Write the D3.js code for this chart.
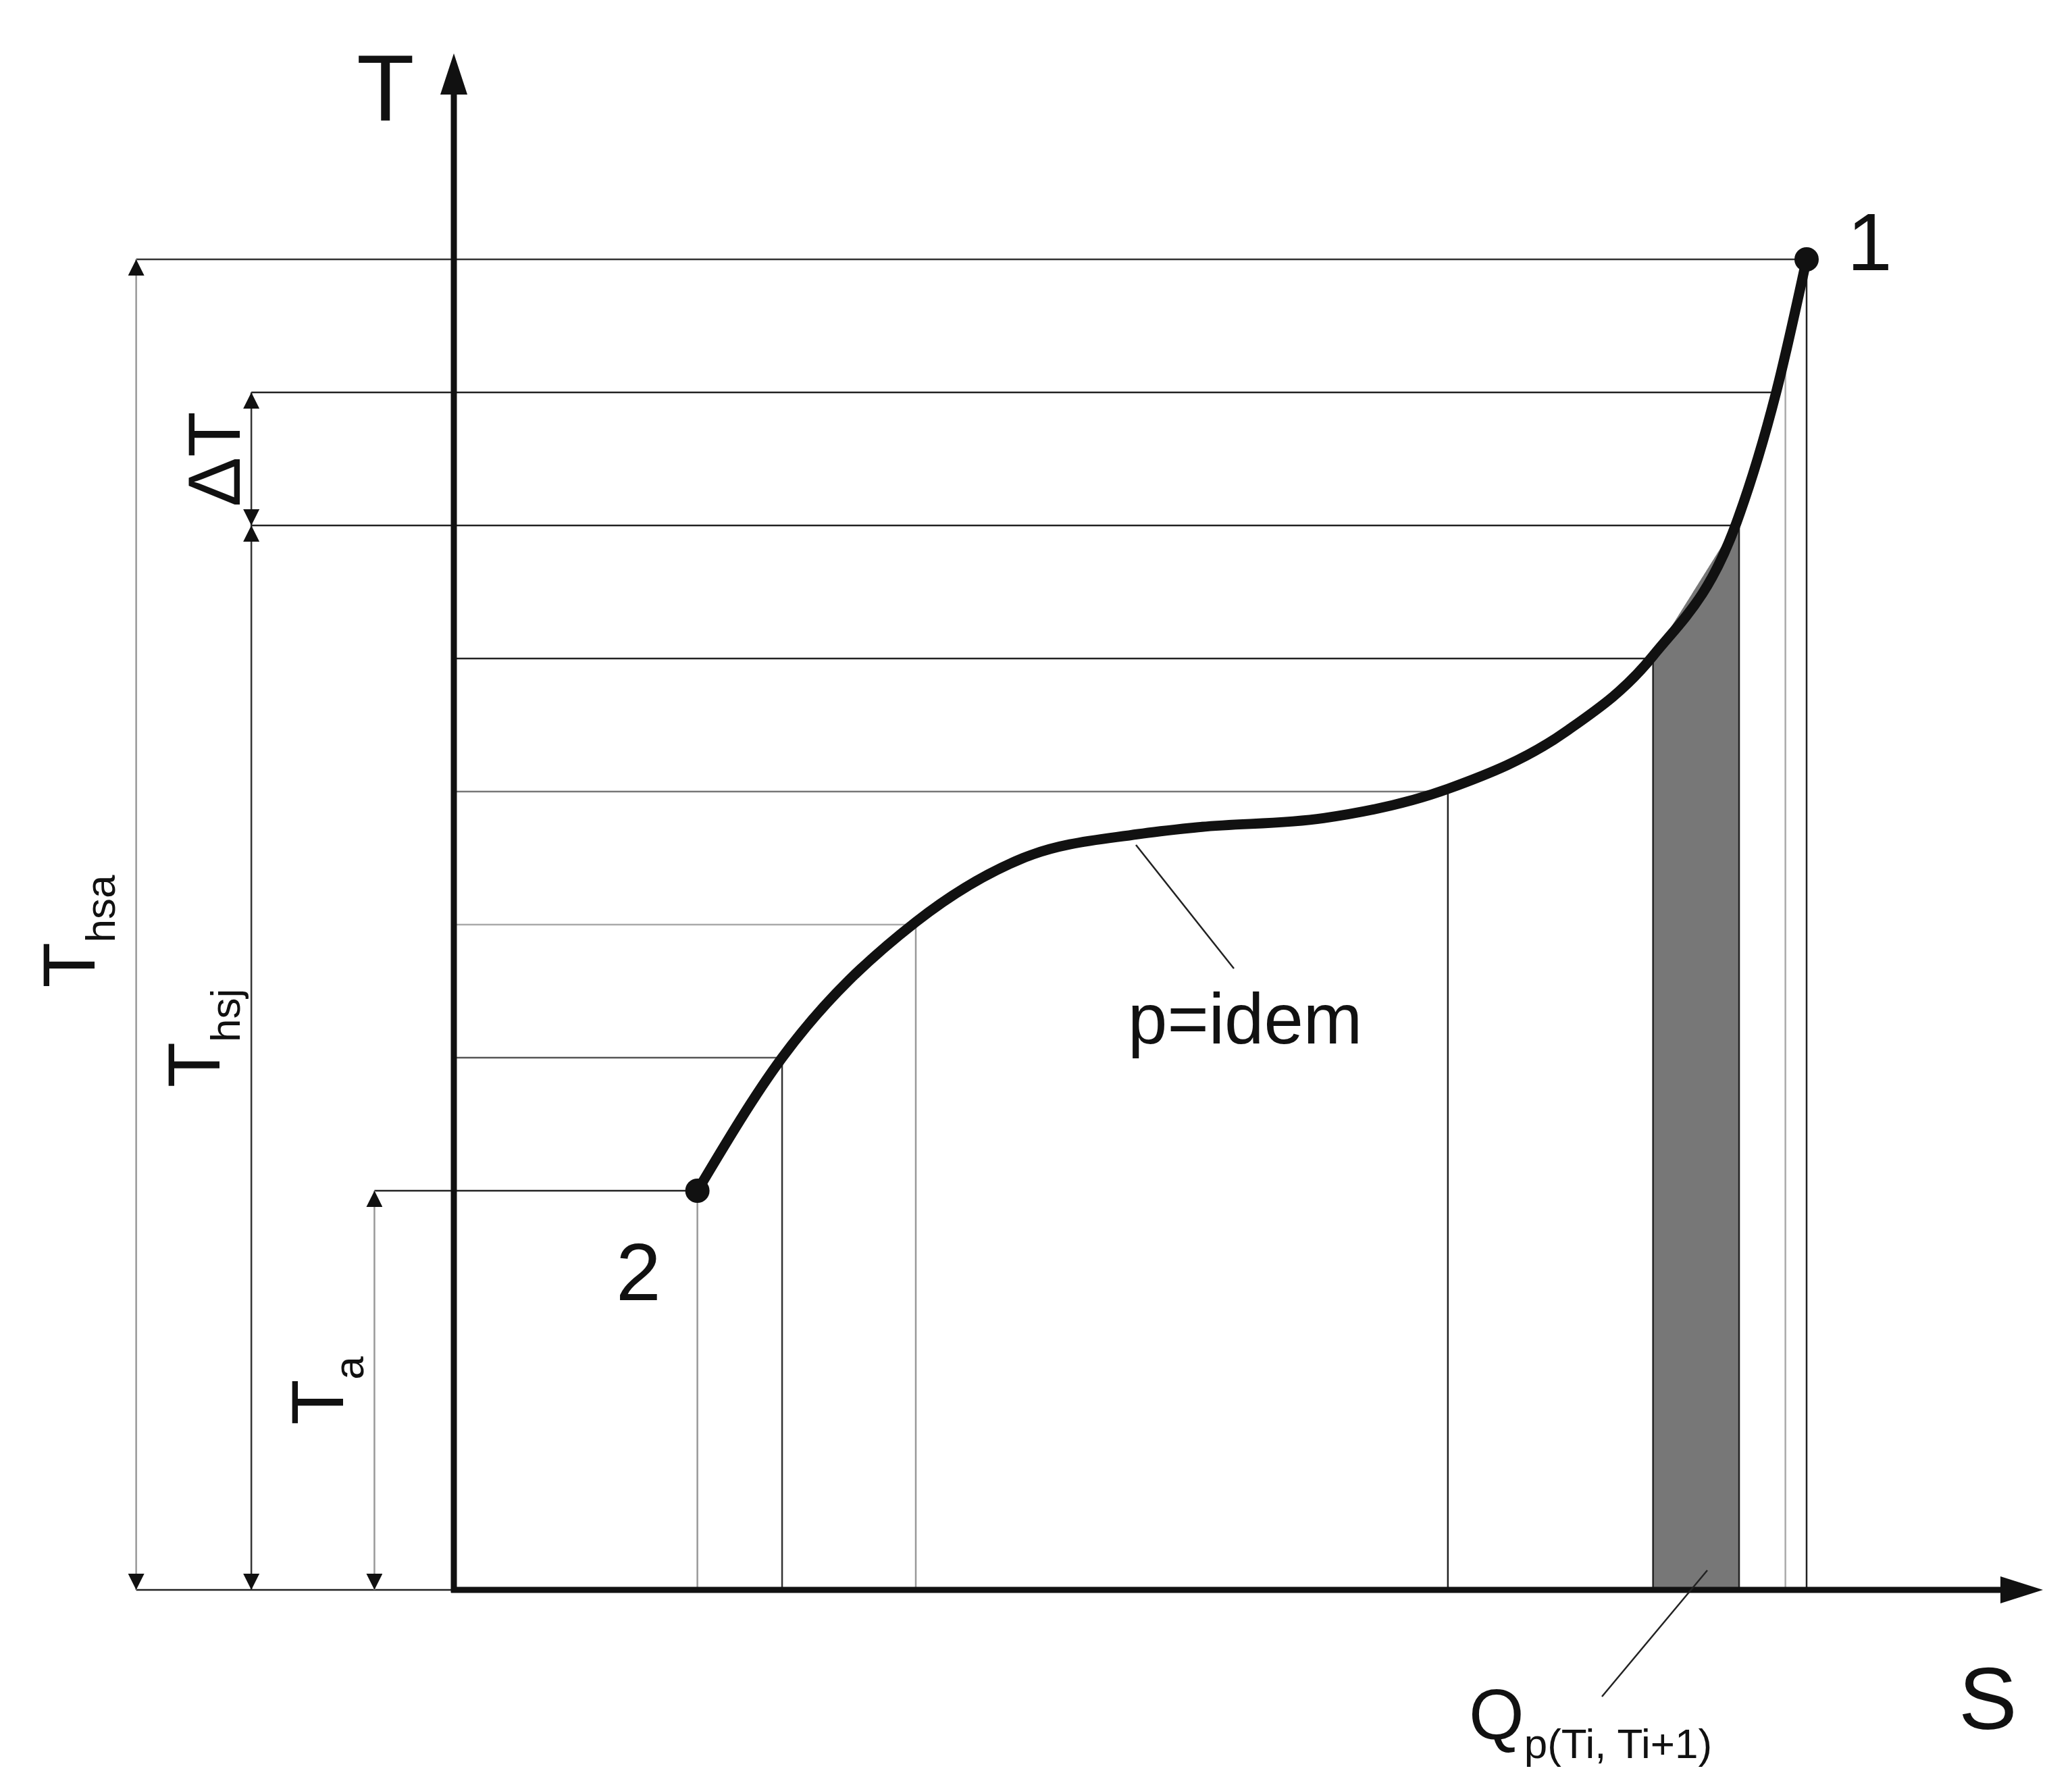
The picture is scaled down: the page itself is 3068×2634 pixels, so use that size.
<!DOCTYPE html>
<html><head><meta charset="utf-8">
<script src="https://cdn.jsdelivr.net/npm/d3@7"></script>
<style>body{margin:0;background:#fff}text{font-family:"Liberation Sans",Arial,sans-serif;fill:#111}</style>
</head><body>
<svg id="svg1" width="3068" height="2634"></svg>
<script>
// curve p=idem, from point 2 to point 1 (s, T)
const curveS = [1.84, 2.48, 3.49, 4.3, 5.17, 5.6, 6.57, 7.51, 8.4, 9.06, 9.69, 9.99, 10.22];
const curveT = [3.0, 4.0, 5.02, 5.5, 5.68, 5.73, 5.8, 6.02, 6.45, 7.02, 8.02, 9.0, 10.0];
// horizontal temperature levels: [T, s at curve, start of line, colour]
const levelT = [3, 4, 5, 6, 7, 8, 9, 10];
const levelS = [1.84, 2.48, 3.49, 7.51, 9.06, 9.69, 9.99, 10.22];
const levelStart = [-0.6, 0, 0, 0, 0, -1.53, -1.53, -2.4];
const levelColor = ['#222', '#555', '#aaa', '#777', '#222', '#222', '#222', '#333'];
// vertical lines down to the s axis
const vertS = [1.84, 2.48, 3.49, 7.51, 9.06, 9.71, 10.06, 10.22];
const vertColor = ['#999', '#333', '#999', '#222', '#222', '#222', '#aaa', '#222'];
const shadeS = [9.06, 9.71];

const svg = d3.select('#svg1');
const x = d3.scaleLinear().domain([0, 10.22]).range([672, 2675]);
const y = d3.scaleLinear().domain([0, 10]).range([2354, 384]);

const pts = curveS.map((s, i) => [s, curveT[i]]);
const interp = d3.scaleLinear().domain(curveS).range(curveT);

// shaded strip under curve
const shadePts = [];
for (let s = shadeS[0]; s <= shadeS[1] + 1e-9; s += 0.01) shadePts.push([s, interp(s)]);
svg.append('path')
  .attr('d', d3.area().x(d => x(d[0])).y0(y(0)).y1(d => y(d[1])).curve(d3.curveMonotoneX)(shadePts))
  .attr('fill', '#777');

// horizontal lines
levelT.forEach((t, i) => {
  svg.append('line').attr('x1', x(levelStart[i])).attr('x2', x(levelS[i]))
    .attr('y1', y(t)).attr('y2', y(t)).attr('stroke', levelColor[i]).attr('stroke-width', 2.5);
});
// vertical lines
vertS.forEach((s, i) => {
  svg.append('line').attr('x1', x(s)).attr('x2', x(s))
    .attr('y1', y(0)).attr('y2', y(interp(Math.min(s, 10.22)))).attr('stroke', vertColor[i]).attr('stroke-width', 2.5);
});
// base extension
svg.append('line').attr('x1', x(-2.4)).attr('x2', x(0)).attr('y1', y(0)).attr('y2', y(0))
  .attr('stroke', '#222').attr('stroke-width', 2.5);

// dimension lines with arrowheads
const defs = svg.append('defs');
defs.append('marker').attr('id', 'ah').attr('viewBox', '0 0 10 10').attr('refX', 10).attr('refY', 5)
  .attr('markerWidth', 10).attr('markerHeight', 10).attr('markerUnits', 'userSpaceOnUse')
  .attr('orient', 'auto-start-reverse').append('path').attr('d', 'M0,0L10,5L0,10z').attr('fill', '#111');
defs.select('marker').attr('markerWidth', 24).attr('markerHeight', 24);
const dims = [[-2.4, 0, 10, '#999'], [-1.53, 0, 8, '#333'], [-1.53, 8, 9, '#333'], [-0.6, 0, 3, '#999']];
dims.forEach(d => {
  svg.append('line').attr('x1', x(d[0])).attr('x2', x(d[0])).attr('y1', y(d[1])).attr('y2', y(d[2]))
    .attr('stroke', d[3]).attr('stroke-width', 2.5)
    .attr('marker-start', 'url(#ah)').attr('marker-end', 'url(#ah)');
});

// axes
svg.append('line').attr('x1', x(0)).attr('x2', x(0)).attr('y1', y(0) + 4).attr('y2', 130)
  .attr('stroke', '#111').attr('stroke-width', 9);
svg.append('line').attr('x1', x(0) - 4).attr('x2', 2975).attr('y1', y(0)).attr('y2', y(0))
  .attr('stroke', '#111').attr('stroke-width', 9);
svg.append('path').attr('d', `M${x(0)},79L${x(0) - 20},140L${x(0) + 20},140z`).attr('fill', '#111');
svg.append('path').attr('d', `M3025,${y(0)}L2962,${y(0) - 20}L2962,${y(0) + 20}z`).attr('fill', '#111');

// curve
svg.append('path').attr('d', d3.line().x(d => x(d[0])).y(d => y(d[1])).curve(d3.curveMonotoneX)(pts))
  .attr('fill', 'none').attr('stroke', '#111').attr('stroke-width', 15).attr('stroke-linecap', 'round');
[[curveS[0], curveT[0]], [10.22, 10]].forEach(p => {
  svg.append('circle').attr('cx', x(p[0])).attr('cy', y(p[1])).attr('r', 18).attr('fill', '#111');
});

// leader lines
svg.append('line').attr('x1', 1682).attr('y1', 1251).attr('x2', 1827).attr('y2', 1434).attr('stroke', '#222').attr('stroke-width', 2.5);
svg.append('line').attr('x1', 2528).attr('y1', 2325).attr('x2', 2372).attr('y2', 2512).attr('stroke', '#222').attr('stroke-width', 2.5);

// labels
const txt = (t, px, py, size) => svg.append('text').attr('x', px).attr('y', py).attr('font-size', size).text(t);
txt('T', 528, 178, 140);
txt('S', 2900, 2560, 130);
txt('1', 2735, 400, 120);
txt('2', 912, 1925, 120);
txt('p=idem', 1670, 1545, 105);
const q = txt('Q', 2175, 2575, 105);
q.append('tspan').attr('font-size', 62).attr('dy', 28).text('p(Ti, Ti+1)');

const rot = (base, sub, px, py, size, subSize) => {
  const t = svg.append('text').attr('transform', `translate(${px},${py}) rotate(-90)`)
    .attr('text-anchor', 'middle').attr('font-size', size).text(base);
  if (sub) t.append('tspan').attr('font-size', subSize).attr('dy', -size * 0.05).attr('dx', 6)
    .attr('baseline-shift', '0').text(sub);
  return t;
};
// rotated labels: subscripts sit towards the right (below after rotation is right side)
const sub = (base, s, px, py) => {
  const g = svg.append('g').attr('transform', `translate(${px},${py}) rotate(-90)`);
  const t = g.append('text').attr('font-size', 110).attr('text-anchor', 'middle');
  t.append('tspan').text(base);
  t.append('tspan').attr('font-size', 62).attr('dy', 30).text(s);
};
sub('T', 'hsa', 140, 1379);
sub('T', 'hsj', 325, 1537);
sub('T', 'a', 508, 2059);
svg.append('text').attr('transform', 'translate(355,680) rotate(-90)').attr('text-anchor', 'middle')
  .attr('font-size', 110).text('ΔT');
</script>
</body></html>
